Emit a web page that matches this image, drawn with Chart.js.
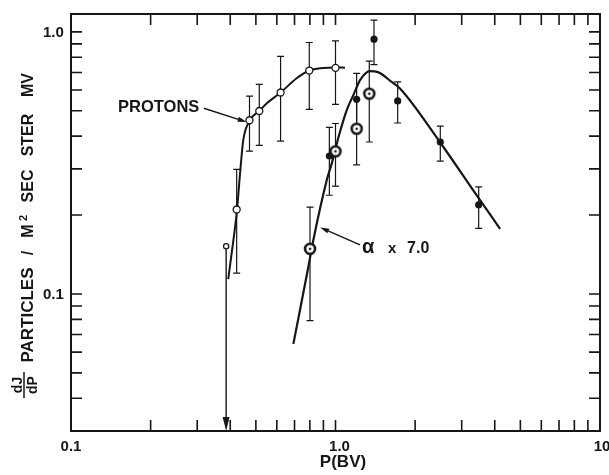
<!DOCTYPE html>
<html>
<head>
<meta charset="utf-8">
<script src="https://cdn.jsdelivr.net/npm/chart.js@4.4.1/dist/chart.umd.min.js"></script>
<style>
  html, body { margin: 0; padding: 0; background: #fff; }
</style>
</head>
<body>
<canvas id="grafico" width="609" height="475"></canvas>
<script>
// Protones (circulos abiertos)
const protonP = [0.423, 0.473, 0.515, 0.62, 0.796, 1.0];
const protonJ = [0.21, 0.46, 0.499, 0.587, 0.712, 0.729];
const protonAlto = [0.299, 0.569, 0.631, 0.807, 0.911, 0.924];
const protonBajo = [0.12, 0.351, 0.369, 0.383, 0.506, 0.529];

// punto con flecha hacia abajo
const limiteP = [0.386];
const limiteJ = [0.152];

// puntos llenos
const llenoP = [0.948, 1.202, 1.398, 1.718, 2.49, 3.478];
const llenoJ = [0.336, 0.553, 0.938, 0.545, 0.38, 0.219];
const llenoAlto = [0.432, 0.694, 1.108, 0.644, 0.437, 0.256];
const llenoBajo = [0.238, 0.427, 0.75, 0.449, 0.321, 0.178];

// alfa x 7.0
const alfaP = [0.801, 1.0, 1.202, 1.342];
const alfaJ = [0.1487, 0.35, 0.427, 0.581];
const alfaAlto = [0.2145, 0.447, 0.553, 0.773];
const alfaBajo = [0.0791, 0.258, 0.311, 0.38];

// curvas dibujadas a mano
const curvaProtonP = [0.393, 0.411, 0.424, 0.435, 0.448, 0.475, 0.515, 0.55, 0.62, 0.713, 0.796, 0.897, 1.0, 1.086];
const curvaProtonJ = [0.114, 0.16, 0.208, 0.283, 0.386, 0.46, 0.499, 0.534, 0.587, 0.665, 0.712, 0.728, 0.732, 0.73];
const curvaAlfaP = [0.693, 0.789, 0.824, 0.926, 0.967, 1.031, 1.102, 1.175, 1.238, 1.35, 1.447, 1.631, 1.753, 2.48, 3.42, 4.19];
const curvaAlfaJ = [0.0645, 0.1265, 0.16, 0.271, 0.314, 0.403, 0.502, 0.581, 0.654, 0.708, 0.702, 0.644, 0.608, 0.38, 0.2377, 0.1773];

// ejes
const valoresX = [0.1, 1, 10];
const etiquetasX = ['0.1', '1.0', '10'];
const valoresY = [0.1, 1];
const etiquetasY = ['0.1', '1.0'];
const marcasX = [0.2, 0.3, 0.4, 0.5, 0.6, 0.7, 0.8, 0.9, 1, 2, 3, 4, 5, 6, 7, 8, 9];
const marcasY = [0.04, 0.05, 0.06, 0.07, 0.08, 0.09, 0.1, 0.2, 0.3, 0.4, 0.5, 0.6, 0.7, 0.8, 0.9, 1];

const tinta = '#161616';
const fuente = '"Liberation Sans", Arial, sans-serif';

function puntos(xs, ys) {
    return xs.map((x, i) => ({ x: x, y: ys[i] }));
}

// marcador de diana para alfa
const marcaAlfa = document.createElement('canvas');
marcaAlfa.width = 16;
marcaAlfa.height = 16;
const m = marcaAlfa.getContext('2d');
m.beginPath();
m.arc(8, 8, 5, 0, Math.PI * 2);
m.fillStyle = '#fff';
m.fill();
m.lineWidth = 2.6;
m.strokeStyle = tinta;
m.stroke();
m.beginPath();
m.arc(8, 8, 1.3, 0, Math.PI * 2);
m.fillStyle = tinta;
m.fill();

function barras(ctx, sx, sy, xs, bajo, alto) {
    xs.forEach((x, i) => {
        const px = sx.getPixelForValue(x);
        const y1 = sy.getPixelForValue(alto[i]);
        const y2 = sy.getPixelForValue(bajo[i]);
        ctx.beginPath();
        ctx.moveTo(px, y1); ctx.lineTo(px, y2);
        ctx.moveTo(px - 3.5, y1); ctx.lineTo(px + 3.5, y1);
        ctx.moveTo(px - 3.5, y2); ctx.lineTo(px + 3.5, y2);
        ctx.stroke();
    });
}

function flecha(ctx, x0, y0, x1, y1, largo, ancho) {
    const ang = Math.atan2(y1 - y0, x1 - x0);
    ctx.beginPath();
    ctx.moveTo(x0, y0);
    ctx.lineTo(x1 - Math.cos(ang) * largo * 0.7, y1 - Math.sin(ang) * largo * 0.7);
    ctx.stroke();
    ctx.save();
    ctx.translate(x1, y1);
    ctx.rotate(ang);
    ctx.beginPath();
    ctx.moveTo(0, 0);
    ctx.lineTo(-largo, -ancho / 2);
    ctx.lineTo(-largo, ancho / 2);
    ctx.closePath();
    ctx.fill();
    ctx.restore();
}

function textoVertical(ctx, texto, x, y, tam) {
    ctx.save();
    ctx.translate(x, y);
    ctx.rotate(-Math.PI / 2);
    ctx.font = 'bold ' + tam + 'px ' + fuente;
    ctx.textAlign = 'center';
    ctx.textBaseline = 'alphabetic';
    ctx.fillText(texto, 0, 0);
    ctx.restore();
}

const dibujoExtra = {
    id: 'dibujoExtra',
    beforeDatasetsDraw(chart) {
        const ctx = chart.ctx;
        const sx = chart.scales.x, sy = chart.scales.y;
        ctx.save();
        ctx.strokeStyle = tinta;
        ctx.fillStyle = tinta;
        ctx.lineWidth = 1.2;
        barras(ctx, sx, sy, protonP, protonBajo, protonAlto);
        barras(ctx, sx, sy, llenoP, llenoBajo, llenoAlto);
        barras(ctx, sx, sy, alfaP, alfaBajo, alfaAlto);
        ctx.lineWidth = 1.4;
        const lx = sx.getPixelForValue(limiteP[0]);
        const ly = sy.getPixelForValue(limiteJ[0]);
        flecha(ctx, lx, ly, lx, chart.chartArea.bottom, 14, 7);
        ctx.restore();
    },
    afterDraw(chart) {
        const ctx = chart.ctx;
        const a = chart.chartArea;
        const sx = chart.scales.x, sy = chart.scales.y;
        ctx.save();
        ctx.strokeStyle = tinta;
        ctx.fillStyle = tinta;

        // marco
        ctx.lineWidth = 2;
        ctx.strokeRect(a.left, a.top, a.right - a.left, a.bottom - a.top);

        // marcas hacia adentro en los cuatro lados
        ctx.lineWidth = 1.6;
        ctx.beginPath();
        marcasX.forEach(v => {
            const px = sx.getPixelForValue(v);
            ctx.moveTo(px, a.bottom); ctx.lineTo(px, a.bottom - 11);
            ctx.moveTo(px, a.top); ctx.lineTo(px, a.top + 11);
        });
        marcasY.forEach(v => {
            const py = sy.getPixelForValue(v);
            ctx.moveTo(a.left, py); ctx.lineTo(a.left + 11, py);
            ctx.moveTo(a.right, py); ctx.lineTo(a.right - 11, py);
        });
        ctx.stroke();

        // etiquetas
        ctx.font = 'bold 15px ' + fuente;
        ctx.textAlign = 'center';
        ctx.textBaseline = 'alphabetic';
        valoresX.forEach((v, i) => {
            ctx.fillText(etiquetasX[i], sx.getPixelForValue(v) + (i === 1 ? 4 : i === 2 ? 2 : 0), 451);
        });
        ctx.textAlign = 'left';
        valoresY.forEach((v, i) => {
            ctx.fillText(etiquetasY[i], 43, sy.getPixelForValue(v) + 5.5);
        });

        // titulo eje x
        ctx.textAlign = 'center';
        ctx.font = 'bold 17px ' + fuente;
        ctx.fillText('P(BV)', 343, 467);

        // titulo eje y
        textoVertical(ctx, 'MV', 33, 85, 16);
        textoVertical(ctx, 'STER', 33, 135, 16);
        textoVertical(ctx, 'SEC', 33, 186, 16);
        textoVertical(ctx, 'M', 33, 231, 16);
        textoVertical(ctx, '2', 27, 218, 11);
        textoVertical(ctx, '/', 33, 253, 16);
        textoVertical(ctx, 'PARTICLES', 33, 315, 17);
        textoVertical(ctx, 'dJ', 22, 385, 14);
        textoVertical(ctx, 'dP', 37, 385, 14);
        ctx.lineWidth = 1.5;
        ctx.beginPath();
        ctx.moveTo(24, 372); ctx.lineTo(24, 398);
        ctx.stroke();

        // anotaciones
        ctx.font = 'bold 16.5px ' + fuente;
        ctx.textAlign = 'left';
        ctx.fillText('PROTONS', sx.getPixelForValue(0.1506), sy.getPixelForValue(0.493));
        ctx.lineWidth = 1.4;
        flecha(ctx, sx.getPixelForValue(0.318), sy.getPixelForValue(0.511),
            sx.getPixelForValue(0.4614), sy.getPixelForValue(0.453), 9, 5);
        flecha(ctx, sx.getPixelForValue(1.238), sy.getPixelForValue(0.154),
            sx.getPixelForValue(0.874), sy.getPixelForValue(0.1794), 9, 5);
        const ax = sx.getPixelForValue(1.26);
        const ay = sy.getPixelForValue(0.1427);
        ctx.font = 'bold 20px ' + fuente;
        ctx.fillText('\u03b1', ax, ay);
        ctx.font = 'bold 15px ' + fuente;
        ctx.fillText('x', ax + 26, ay);
        ctx.font = 'bold 16px ' + fuente;
        ctx.fillText('7.0', ax + 45, ay);
        ctx.restore();
    }
};

new Chart(document.getElementById('grafico'), {
    type: 'scatter',
    data: {
        datasets: [
            {
                label: 'protones',
                data: puntos(protonP, protonJ),
                pointRadius: 3.5,
                pointBackgroundColor: '#fff',
                pointBorderColor: tinta,
                pointBorderWidth: 1.3,
                order: 1
            },
            {
                label: 'limite',
                data: puntos(limiteP, limiteJ),
                pointRadius: 2.6,
                pointBackgroundColor: '#fff',
                pointBorderColor: tinta,
                pointBorderWidth: 1.3,
                order: 1
            },
            {
                label: 'llenos',
                data: puntos(llenoP, llenoJ),
                pointRadius: 3.6,
                pointBackgroundColor: tinta,
                pointBorderColor: tinta,
                pointBorderWidth: 0,
                order: 1
            },
            {
                label: 'alfa x 7.0',
                data: puntos(alfaP, alfaJ),
                pointStyle: marcaAlfa,
                order: 1
            },
            {
                label: 'curva protones',
                data: puntos(curvaProtonP, curvaProtonJ),
                showLine: true,
                pointRadius: 0,
                borderColor: tinta,
                borderWidth: 2,
                cubicInterpolationMode: 'monotone',
                order: 2
            },
            {
                label: 'curva alfa',
                data: puntos(curvaAlfaP, curvaAlfaJ),
                showLine: true,
                pointRadius: 0,
                borderColor: tinta,
                borderWidth: 2.2,
                cubicInterpolationMode: 'monotone',
                order: 2
            }
        ]
    },
    options: {
        responsive: false,
        animation: false,
        events: [],
        layout: { padding: { left: 71, right: 9, top: 14, bottom: 44 } },
        plugins: { legend: { display: false }, tooltip: { enabled: false } },
        scales: {
            x: { type: 'logarithmic', min: 0.1, max: 10, display: false },
            y: { type: 'logarithmic', min: 0.03, max: 1.17, display: false }
        }
    },
    plugins: [dibujoExtra]
});
</script>
</body>
</html>
